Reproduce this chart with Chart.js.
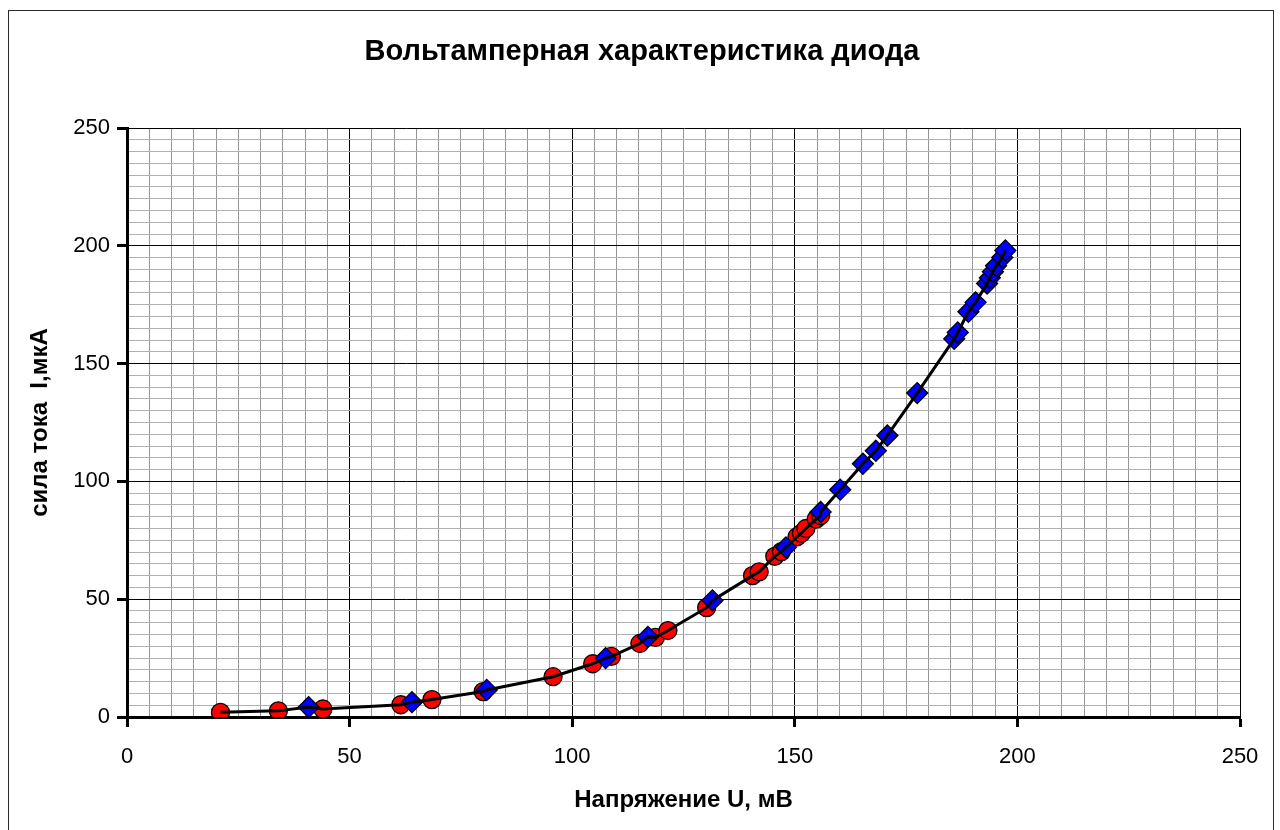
<!DOCTYPE html>
<html>
<head>
<meta charset="utf-8">
<script src="https://cdn.jsdelivr.net/npm/chart.js@4/dist/chart.umd.min.js"></script>
<style>
  html, body { margin: 0; padding: 0; background: #ffffff; }
  #wrap { width: 1280px; height: 830px; position: relative; }
</style>
</head>
<body>
<div id="wrap"><canvas id="c" width="1280" height="830"></canvas></div>
<script>
// Diode I-V characteristic: two measurement runs plus the connecting curve
const chartTitle = 'Вольтамперная характеристика диода';
const xTitle = 'Напряжение U, мВ';
const yTitle = 'сила тока  I,мкА';

// run 1 (red circles): voltage, mV / current, uA
const redU = [21, 34, 44, 61.5, 68.5, 80, 95.7, 104.6, 108.8, 115.2, 118.7, 121.5, 130.2, 140.5, 142, 145.5, 147, 150.5, 151.5, 152.5, 154.8, 155.8];
const redI = [2, 2.6, 3.4, 5.2, 7.4, 10.8, 17.1, 22.6, 25.7, 31.2, 33.8, 36.7, 46.4, 60, 61.6, 68.2, 70.2, 76.5, 78, 80, 84, 85.5];

// run 2 (blue diamonds)
const blueU = [40.8, 64, 80.8, 107.5, 117, 131.5, 148, 155.8, 160.2, 165.3, 168.2, 170.8, 177.5, 185.8, 186.6, 189, 190.6, 193.2, 193.8, 194.5, 195.2, 196.6, 197.3];
const blueI = [4.2, 6.3, 11.5, 25, 34, 49.5, 72, 87, 96.5, 107.5, 113, 119.5, 137.5, 160.5, 163.2, 172, 176, 184, 186.4, 189, 191.5, 195, 198];

// axis ranges and grid steps
const axisMin = 0, axisMax = 250, majorStep = 50, minorStep = 5;

const toPoints = (xs, ys) => xs.map((x, i) => ({ x: x, y: ys[i] }));
const redPts = toPoints(redU, redI);
const bluePts = toPoints(blueU, blueI);
const curvePts = redPts.concat(bluePts).sort((a, b) => a.x - b.x);

const isMajor = v => Math.abs(v % majorStep) < 1e-6;

function axisCfg(isX) {
  return {
    type: 'linear',
    min: axisMin,
    max: axisMax,
    afterFit: s => { if (isX) s.height = 113; else s.width = 127; },
    border: { display: true, color: '#000000', width: 3 },
    grid: {
      drawOnChartArea: true,
      drawTicks: true,
      tickLength: 10,
      color: c => isMajor(c.tick.value) ? '#000000' : (isX ? '#959595' : '#b0b0b0'),
      lineWidth: 1,
      tickColor: c => isMajor(c.tick.value) ? '#000000' : 'rgba(0,0,0,0)',
      tickWidth: 3
    },
    ticks: {
      stepSize: minorStep,
      autoSkip: false,
      maxTicksLimit: 200,
      maxRotation: 0,
      padding: isX ? 17 : 7,
      color: '#000000',
      font: { family: 'Liberation Sans, Arial, sans-serif', size: 22 },
      callback: v => isMajor(v) ? String(v) : ''
    }
  };
}

// frame, chart title and axis titles
const decor = {
  id: 'decor',
  beforeDraw(chart) {
    const ctx = chart.ctx;
    ctx.save();
    ctx.fillStyle = '#ffffff';
    ctx.fillRect(0, 0, chart.width, chart.height);
    ctx.strokeStyle = '#2a2a2a';
    ctx.lineWidth = 1;
    ctx.strokeRect(8.5, 10.5, 1265, 840);
    ctx.restore();
  },
  afterDraw(chart) {
    const ctx = chart.ctx;
    const a = chart.chartArea;
    ctx.save();
    ctx.fillStyle = '#000000';
    ctx.textAlign = 'center';
    ctx.textBaseline = 'middle';
    ctx.font = 'bold 29px "Liberation Sans", Arial, sans-serif';
    ctx.fillText(chartTitle, 642, 52);
    ctx.font = 'bold 24px "Liberation Sans", Arial, sans-serif';
    ctx.fillText(xTitle, (a.left + a.right) / 2, 800);
    ctx.translate(40, (a.top + a.bottom) / 2);
    ctx.rotate(-Math.PI / 2);
    ctx.fillText(yTitle, 0, 0);
    ctx.restore();
  }
};

new Chart(document.getElementById('c'), {
  type: 'scatter',
  data: {
    datasets: [
      {
        label: 'curve',
        type: 'line',
        data: curvePts,
        borderColor: '#000000',
        borderWidth: 3,
        pointRadius: 0,
        tension: 0,
        fill: false,
        order: 0
      },
      {
        label: 'run 2',
        data: bluePts,
        pointStyle: 'rectRot',
        pointRadius: 10.5,
        backgroundColor: '#0000ff',
        borderColor: '#000000',
        borderWidth: 1.3,
        order: 1
      },
      {
        label: 'run 1',
        data: redPts,
        pointStyle: 'circle',
        pointRadius: 9,
        backgroundColor: '#ff0000',
        borderColor: '#000000',
        borderWidth: 1.3,
        order: 2
      }
    ]
  },
  options: {
    responsive: false,
    animation: false,
    layout: { padding: { left: 0, right: 40, top: 128, bottom: 0 } },
    plugins: { legend: { display: false }, tooltip: { enabled: false }, title: { display: false } },
    scales: { x: axisCfg(true), y: axisCfg(false) }
  },
  plugins: [decor]
});
</script>
</body>
</html>
